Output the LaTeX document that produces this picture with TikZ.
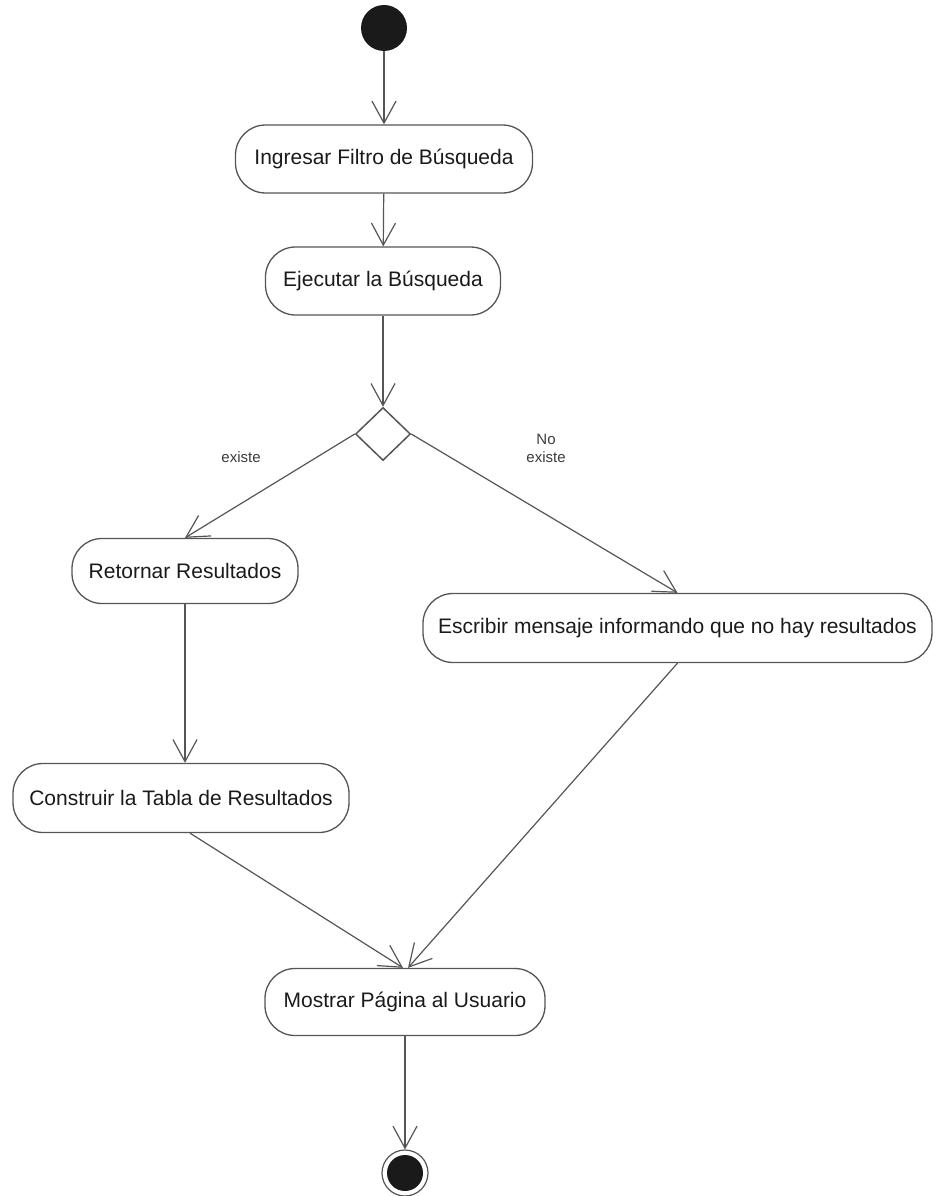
\documentclass[tikz,border=0pt]{standalone}
\usepackage{fontspec}
\setmainfont{Liberation Sans}
\usetikzlibrary{arrows.meta,shapes.geometric,calc}
\definecolor{linec}{HTML}{555555}
\definecolor{textc}{HTML}{1A1A1A}
\definecolor{fillc}{HTML}{1A1A1A}
\begin{document}
\begin{tikzpicture}[x=1pt,y=-1pt,
  actbox/.style={draw=linec, line width=1.3pt, rounded corners=30pt, inner sep=0pt,
    text=textc, font=\fontsize{21}{25}\selectfont},
  flow/.style={draw=linec, line width=1.2pt, -{Straight Barb[length=22pt,width=24pt,line width=1.2pt]}},
  lbl/.style={text=textc!85, font=\fontsize{15}{18}\selectfont, align=center},
]
\useasboundingbox (0,0) rectangle (937,1196);

\node[circle, fill=fillc, minimum size=46pt, inner sep=0pt] (start) at (384,28) {};
\node[actbox, minimum width=297pt, minimum height=68pt] (n1) at (384,159) {Ingresar Filtro de Búsqueda};
\node[actbox, minimum width=235pt, minimum height=68pt] (n2) at (383,281) {Ejecutar la Búsqueda};
\node[diamond, draw=linec, line width=1.5pt, minimum width=55pt, minimum height=53pt, inner sep=0pt] (dec) at (383,434) {};
\node[actbox, minimum width=226pt, minimum height=65pt] (n3) at (185,571) {Retornar Resultados};
\node[actbox, minimum width=509pt, minimum height=69pt] (n4) at (677.5,628) {Escribir mensaje informando que no hay resultados};
\node[actbox, minimum width=336pt, minimum height=69pt] (n5) at (181,798) {Construir la Tabla de Resultados};
\node[actbox, minimum width=280pt, minimum height=67pt] (n6) at (405,1002) {Mostrar Página al Usuario};
\node[circle, draw=linec, line width=1.2pt, minimum size=46pt, inner sep=0pt] (endo) at (405,1173) {};
\node[circle, fill=fillc, minimum size=36pt, inner sep=0pt] (endi) at (405,1173) {};

\node[lbl] (lex) at (241,457) {existe};
\node[lbl] (lnoex) at (546,448) {No\\existe};

\draw[flow] (start) -- (n1);
\draw[flow] (n1) -- (n2);
\draw[flow] (n2) -- (dec.north);
\draw[flow] (dec.west) -- (n3.north);
\draw[flow] (dec.east) -- (n4.north);
\draw[flow] (n3.south) -- (n3.south |- n5.north);
\draw[flow] ([xshift=9pt]n5.south) -- ([xshift=-2pt]n6.north);
\draw[flow] (n4.south) -- ([xshift=3pt]n6.north);
\draw[flow] (n6.south) -- (endo.north);
\end{tikzpicture}
\end{document}
